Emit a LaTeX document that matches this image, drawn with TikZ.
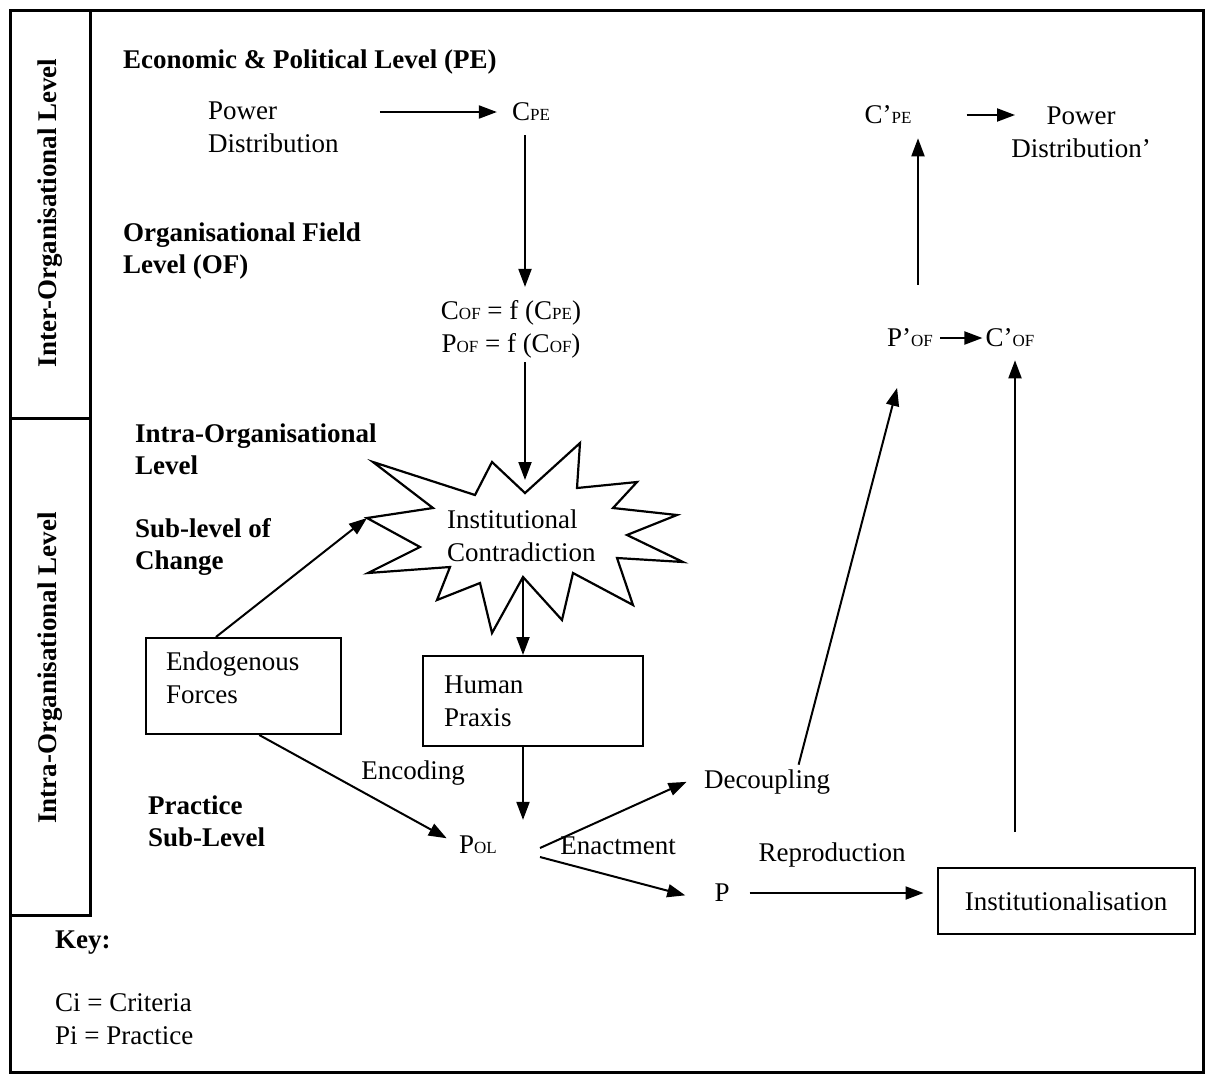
\documentclass[tikz,border=0pt]{standalone}
\usepackage{fontspec}
\setmainfont{Liberation Serif}
\usetikzlibrary{arrows.meta,calc}

% lowered small capitals used as indices (C_PE, P_OF, ...)
\newcommand\lo[1]{{\fontsize{17}{17}\selectfont #1}}

\begin{document}
\begin{tikzpicture}[x=1pt,y=-1pt,
  every node/.style={inner sep=0pt, font=\fontsize{27}{33}\selectfont},
  heading/.style={font=\fontsize{27}{32}\selectfont\bfseries, align=left, anchor=west},
  txt/.style={align=left},
  flow/.style={line width=2pt, -{Triangle[length=18pt,width=13pt]}},
  box/.style={draw, line width=2pt, align=left},
  frame/.style={line width=3pt}]

\useasboundingbox (0,0) rectangle (1215,1077);

% outer frame and the level column on the left
\draw[frame] (10,10) rectangle (1203,1072);
\draw[frame] (90,10) -- (90,915) -- (10,915);
\draw[frame] (10,418) -- (90,418);
\node[rotate=90, font=\fontsize{27}{32}\selectfont\bfseries] (inter) at (50,213) {Inter-Organisational Level};
\node[rotate=90, font=\fontsize{27}{32}\selectfont\bfseries] (intraL) at (50,668) {Intra-Organisational Level};

% level headings
\node[heading] (econ) at (123,62) {Economic \& Political Level (PE)};
\node[heading] (ofl) at (123,251) {Organisational Field\\Level (OF)};
\node[heading] (intra) at (135,449) {Intra-Organisational\\Level};
\node[heading] (subc) at (135,547) {Sub-level of\\Change};
\node[heading] (prac) at (148,821) {Practice\\Sub-Level};

% economic & political level
\node[txt, anchor=west] (pd) at (208,127) {Power\\Distribution};
\node (cpe) at (531,112) {C\lo{PE}};
\node[align=center] (cof) at (511,329) {C\lo{OF} = f (C\lo{PE})\\P\lo{OF} = f (C\lo{OF})};

% institutional contradiction (star burst)
\coordinate (s1) at (373,462);
\coordinate (s2) at (475,495);
\coordinate (s3) at (492,462);
\coordinate (s4) at (525,493);
\coordinate (s5) at (580,443);
\coordinate (s6) at (577,488);
\coordinate (s7) at (637,482);
\coordinate (s8) at (613,508);
\coordinate (s9) at (677,515);
\coordinate (s10) at (627,535);
\coordinate (s11) at (683,562);
\coordinate (s12) at (617,558);
\coordinate (s13) at (633,605);
\coordinate (s14) at (573,573);
\coordinate (s15) at (562,620);
\coordinate (s16) at (523,577);
\coordinate (s17) at (492,633);
\coordinate (s18) at (480,583);
\coordinate (s19) at (437,600);
\coordinate (s20) at (450,567);
\coordinate (s21) at (368,573);
\coordinate (s22) at (420,547);
\coordinate (s23) at (367,518);
\coordinate (s24) at (433,508);
\draw[line width=2.2pt, line join=miter]
  (s1) -- (s2) -- (s3) -- (s4) -- (s5) -- (s6) -- (s7) -- (s8) -- (s9) -- (s10)
  -- (s11) -- (s12) -- (s13) -- (s14) -- (s15) -- (s16) -- (s17) -- (s18) -- (s19)
  -- (s20) -- (s21) -- (s22) -- (s23) -- (s24) -- cycle;
\node[txt, anchor=west] (contr) at (447,536) {Institutional\\Contradiction};

% organisational boxes
\node[box, anchor=north west, minimum width=195pt, minimum height=96pt,
      text width=155pt, text depth=50pt, inner xsep=20pt] (endo) at (145,637) {Endogenous\\Forces};
\node[box, anchor=north west, minimum width=220pt, minimum height=90pt,
      text width=178pt, inner xsep=21pt] (hp) at (422,655) {Human\\Praxis};

% practice sub-level
\node (pol) at (478,845) {P\lo{OL}};
\node (dec) at (767,782) {Decoupling};
\node (p) at (722,893) {P};
\node[box, minimum width=257pt, minimum height=66pt] (inst) at (1066,901) {Institutionalisation};
\coordinate (forkup) at (540,848);
\coordinate (forkdn) at (540,857);

% edge labels
\node (encl) at (413,773) {Encoding};
\node (enal) at (618,846) {Enactment};
\node (repl) at (832,855) {Reproduction};

% feedback to field and economic level
\node (pof) at (910,338) {P'\lo{OF}};
\node (cof2) at (1010,338) {C'\lo{OF}};
\node (cpe2) at (888,115) {C'\lo{PE}};
\node[align=center] (pd2) at (1081,132) {Power\\Distribution'};

% key
\node[heading] (key) at (55,943) {Key:};
\node[txt, anchor=west] (keyl) at (55,1019) {Ci = Criteria\\Pi = Practice};

% connectors
\draw[flow, shorten <=41pt, shorten >=15pt] (cpe.west -| pd.east) -- (cpe.west);
\draw[flow, shorten <=14pt, shorten >=13pt] (cpe.south -| s4) -- (cof.north -| s4);
\draw[flow, shorten <=4pt, shorten >=13pt] (cof.south -| s4) -- (s4);
\draw[flow] ($(endo.north west)!0.36!(endo.north east)$) -- (s23);
\draw[flow] (s16) -- (s16 |- hp.north);
\draw[flow, shorten >=14pt] ($(endo.south west)!0.58!(endo.south east)$) -- (pol.west);
\draw[flow, shorten >=16pt] (hp.south -| s16) -- (pol.north -| s16);
\draw[flow, shorten >=19pt] (forkup) -- ([yshift=8pt]dec.west);
\draw[flow, shorten >=30pt] (forkdn) -- ([yshift=-10pt]p.west);
\draw[flow, shorten <=20pt, shorten >=13pt] (p.east) -- (p.east -| inst.west);
\draw[flow, shorten <=5pt, shorten >=42pt]
  ($(dec.north west)!0.74!(dec.north east)$) -- ($(pof.south west)!0.45!(pof.south east)$);
\draw[flow, shorten <=35pt, shorten >=13pt] ([xshift=5pt]cof2.south |- inst.north) -- ([xshift=5pt]cof2.south);
\draw[flow, shorten <=7pt, shorten >=3pt] (pof.east) -- (cof2.west);
\draw[flow, shorten <=44pt, shorten >=14pt] ([xshift=8pt]pof.north) -- ([xshift=8pt]pof.north |- cpe2.south);
\draw[flow, shorten <=55pt, shorten >=-4pt] (cpe2.east) -- (cpe2.east -| pd2.west);

\end{tikzpicture}
\end{document}
